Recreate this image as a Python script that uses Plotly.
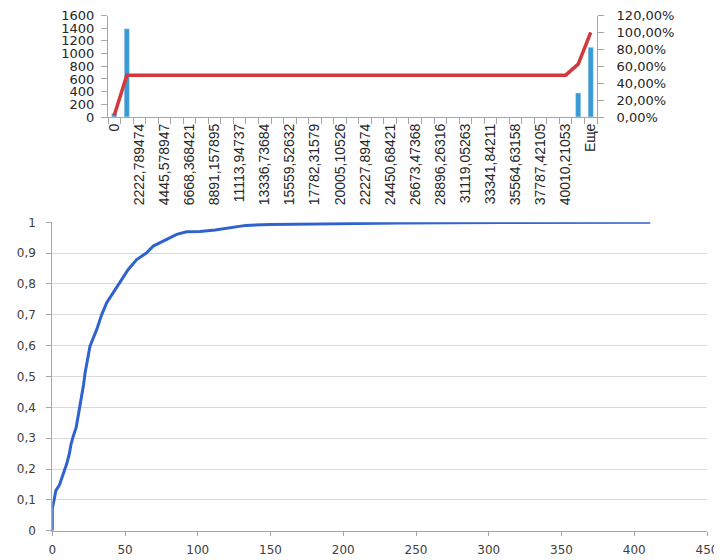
import plotly.graph_objects as go

# ---- top histogram (Pareto) data ----
bin_labels = ["0", "2222,789474", "4445,578947", "6668,368421", "8891,157895",
              "11113,94737", "13336,73684", "15559,52632", "17782,31579",
              "20005,10526", "22227,89474", "24450,68421", "26673,47368",
              "28896,26316", "31119,05263", "33341,84211", "35564,63158",
              "37787,42105", "40010,21053", "Еще"]
bin_counts = [60, 1390] + [0] * 35 + [380, 1100]
cum_pct = [0.0205, 0.4949] + [0.4949] * 35 + [0.6246, 1.0]

# ---- bottom empirical CDF data ----
cdf_x = [0, 0, 1.2, 2.5, 4.8, 6.4, 8.7, 9.9, 11.7, 12.9, 14.5, 16.4, 18, 19.6,
         21.5, 22.5, 25.9, 30.5, 33.9, 37.4, 41.9, 46.5, 52.2, 58, 64.9, 69.4,
         78.6, 85.5, 92.3, 101.5, 112, 122, 133, 150, 191, 239, 308, 411]
cdf_y = [0, 0.072, 0.099, 0.131, 0.147, 0.168, 0.195, 0.217, 0.249, 0.281,
         0.308, 0.335, 0.378, 0.42, 0.474, 0.511, 0.598, 0.652, 0.70, 0.739,
         0.771, 0.804, 0.847, 0.879, 0.901, 0.923, 0.944, 0.961, 0.969, 0.97,
         0.975, 0.983, 0.99, 0.993, 0.996, 0.998, 0.999, 1.0]

# page has an 8px body margin: figure is placed at (8, 8)
OFF = 8
W, H = 722 - OFF, 560 - OFF


def dx(a, b):
    return [(a - OFF) / W, (b - OFF) / W]


def dy(top, bottom):
    return [1 - (bottom - OFF) / H, 1 - (top - OFF) / H]


pos = list(range(len(bin_counts)))

fig = go.Figure()
fig.add_trace(go.Bar(x=pos, y=bin_counts, marker_color="#3A9AD6",
                     xaxis="x", yaxis="y", showlegend=False))
fig.add_trace(go.Scatter(x=pos, y=cum_pct, mode="lines",
                         line=dict(color="#D3393A", width=3.5),
                         xaxis="x", yaxis="y2", showlegend=False))
fig.add_trace(go.Scatter(x=cdf_x, y=cdf_y, mode="lines",
                         line=dict(color="#2F62D0", width=3),
                         xaxis="x2", yaxis="y3", showlegend=False))

axis_grey = "#A6A6A6"
txt = "#262626"

fig.update_layout(
    width=W, height=H,
    margin=dict(l=0, r=0, t=0, b=0),
    paper_bgcolor="white", plot_bgcolor="white",
    separators=", ",
    bargap=0.58,
    xaxis=dict(domain=dx(108, 597), anchor="y", range=[-0.5, 38.5],
               automargin=False,
               tickmode="array", tickvals=pos[::2], ticktext=bin_labels,
               tickangle=-90, ticks="", showgrid=False, zeroline=False,
               showline=True, linecolor=axis_grey,
               tickfont=dict(family="Liberation Sans", size=14, color=txt),
               minor=dict(tick0=0.5, dtick=1, ticks="outside", ticklen=6,
                          tickcolor=axis_grey, showgrid=False)),
    yaxis=dict(domain=dy(15.5, 117), anchor="x", range=[0, 1600],
               automargin=False, ticklabeloverflow="allow",
               dtick=200, showgrid=False, zeroline=False, showline=True,
               linecolor=axis_grey, ticks="outside", ticklen=6,
               tickcolor=axis_grey, ticklabelstandoff=4,
               tickfont=dict(family="DejaVu Sans", size=13, color=txt)),
    yaxis2=dict(overlaying="y", side="right", anchor="x", range=[0, 1.2],
                automargin=False, ticklabeloverflow="allow",
                dtick=0.2, tickformat=".2%", showgrid=False, zeroline=False,
                showline=True, linecolor=axis_grey, ticks="outside",
                ticklen=6, tickcolor=axis_grey, ticklabelstandoff=10,
                tickfont=dict(family="DejaVu Sans", size=13, color=txt)),
    xaxis2=dict(domain=dx(52.3, 707), anchor="y3", range=[0, 450],
                automargin=False, ticklabeloverflow="allow",
                dtick=50, showgrid=False, zeroline=False, showline=True,
                linecolor=axis_grey, ticks="outside", ticklen=4,
                tickcolor=axis_grey, ticklabelstandoff=4,
                tickfont=dict(family="DejaVu Sans", size=12, color="#404040")),
    yaxis3=dict(domain=dy(222.3, 530.7), anchor="x2",
                automargin=False,
                range=[0, 1], dtick=0.1, showgrid=True, gridcolor="#D9D9D9",
                zeroline=False, showline=True, linecolor=axis_grey,
                ticks="outside", ticklen=5, tickcolor=axis_grey,
                ticklabelstandoff=8,
                tickfont=dict(family="DejaVu Sans", size=12, color="#404040")),
)

fig.write_html("out.html")
